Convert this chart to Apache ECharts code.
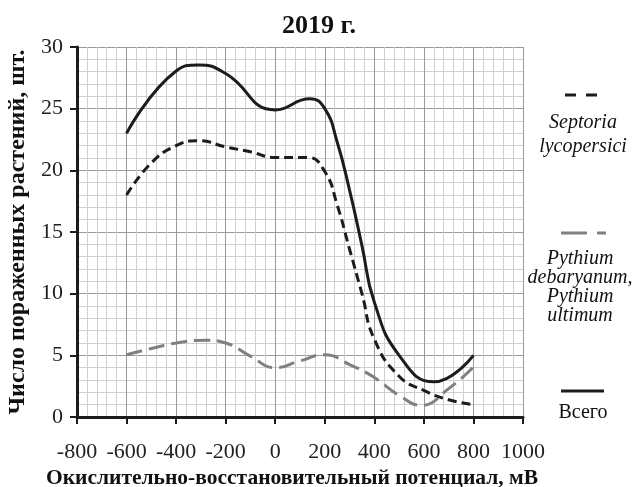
<!DOCTYPE html>
<html>
<head>
<meta charset="utf-8">
<script src="https://cdn.jsdelivr.net/npm/echarts@6/dist/echarts.min.js"></script>
<style>
    html, body { margin: 0; padding: 0; background: #fff; }
    #chart { width: 638px; height: 487px; }
</style>
</head>
<body>
<div id="chart"></div>
<script>
// значения (потенциал, мВ -> число пораженных растений, шт.)
const septoriaX = [-600, -500, -400, -310, -200, -100, 0, 130, 200, 250, 300, 350, 400, 500, 600, 700, 800]
const septoriaY = [18, 20.6, 22, 22.4, 21.9, 21.5, 21.05, 21.05, 19.9, 17.2, 13.6, 10, 6.3, 3.3, 2.15, 1.4, 1]
const pythiumX = [-600, -500, -400, -280, -200, -100, 0, 100, 200, 300, 400, 500, 590, 700, 800]
const pythiumY = [5.05, 5.55, 6, 6.22, 6, 4.93, 4, 4.55, 5.05, 4.25, 3.2, 1.75, 0.95, 2.3, 4.05]
const totalX = [-600, -400, -310, -200, 0, 140, 200, 250, 300, 350, 400, 500, 640, 800]
const totalY = [23, 28.05, 28.55, 27.85, 24.9, 25.8, 25, 22.3, 18.4, 13.9, 9.3, 5, 2.85, 5]
// подписи осей
const xTicks = [-800, -600, -400, -200, 0, 200, 400, 600, 800, 1000]
const yTicks = [0, 5, 10, 15, 20, 25, 30]

const serif = '"Liberation Serif", "Times New Roman", serif'
const black = '#1c1c1c'
const gray = '#808080'

const pairs = (xs, ys) => xs.map((x, i) => [x, ys[i]])

const chart = echarts.init(document.getElementById('chart'))

const axisCommon = {
    type: 'value',
    axisLine: { show: true, onZero: false, lineStyle: { color: black, width: 3 } },
    axisTick: { show: true, length: 7, lineStyle: { color: black, width: 2 } },
    axisLabel: { color: '#222', fontFamily: serif, fontSize: 22, formatter: v => String(v) },
    splitLine: { show: true, lineStyle: { color: '#9a9a9a', width: 1 } },
    minorTick: { show: false, splitNumber: 5 },
    minorSplitLine: { show: true, lineStyle: { color: '#cfcfcf', width: 1 } },
    nameLocation: 'middle',
    nameTextStyle: { color: '#111', fontFamily: serif, fontWeight: 'bold', fontSize: 21 }
}

const lineCommon = {
    type: 'line',
    smooth: 0.5,
    showSymbol: false
}

const option = {
    backgroundColor: '#fff',
    animation: false,
    title: {
        text: '2019 г.',
        left: 'center',
        top: 8,
        textStyle: { color: '#111', fontFamily: serif, fontWeight: 'bold', fontSize: 26 }
    },
    grid: { left: 77, right: 115, top: 47, bottom: 70, containLabel: false, outerBoundsMode: 'none' },
    xAxis: Object.assign({}, axisCommon, {
        min: xTicks[0],
        max: xTicks[xTicks.length - 1],
        interval: xTicks[1] - xTicks[0],
        name: 'Окислительно-восстановительный потенциал, мВ',
        nameGap: 47,
        nameTextStyle: Object.assign({}, axisCommon.nameTextStyle, { fontSize: 21.5, padding: [0, 16, 0, 0] }),
        axisLabel: Object.assign({}, axisCommon.axisLabel, { margin: 24 })
    }),
    yAxis: Object.assign({}, axisCommon, {
        min: yTicks[0],
        max: yTicks[yTicks.length - 1],
        interval: yTicks[1] - yTicks[0],
        name: 'Число пораженных растений, шт.',
        nameGap: 42,
        nameTextStyle: Object.assign({}, axisCommon.nameTextStyle, { fontSize: 24 }),
        axisLabel: Object.assign({}, axisCommon.axisLabel, { margin: 14 })
    }),
    series: [
        Object.assign({}, lineCommon, {
            name: 'Septoria lycopersici',
            data: pairs(septoriaX, septoriaY),
            lineStyle: { color: black, width: 3, type: [9, 5] }
        }),
        Object.assign({}, lineCommon, {
            name: 'Pythium debaryanum, Pythium ultimum',
            data: pairs(pythiumX, pythiumY),
            lineStyle: { color: gray, width: 3, type: [16, 7] }
        }),
        Object.assign({}, lineCommon, {
            name: 'Всего',
            data: pairs(totalX, totalY),
            lineStyle: { color: black, width: 3 }
        })
    ],
    // легенда справа: значок над подписью
    graphic: [
        { type: 'line', shape: { x1: 565, y1: 95, x2: 599, y2: 95 }, style: { stroke: black, lineWidth: 3, lineDash: [11, 10] } },
        {
            type: 'text', x: 583, y: 135,
            style: { text: 'Septoria\nlycopersici', font: 'italic 20px ' + serif, fill: '#111', lineHeight: 24, align: 'center', verticalAlign: 'middle', textAlign: 'center', textVerticalAlign: 'middle' }
        },
        { type: 'line', shape: { x1: 561, y1: 233, x2: 606, y2: 233 }, style: { stroke: gray, lineWidth: 3, lineDash: [26, 10] } },
        {
            type: 'text', x: 580, y: 287,
            style: { text: 'Pythium\ndebaryanum,\nPythium\nultimum', font: 'italic 20px ' + serif, fill: '#111', lineHeight: 19, align: 'center', verticalAlign: 'middle', textAlign: 'center', textVerticalAlign: 'middle' }
        },
        { type: 'line', shape: { x1: 561, y1: 391, x2: 604, y2: 391 }, style: { stroke: black, lineWidth: 3 } },
        {
            type: 'text', x: 583, y: 413,
            style: { text: 'Всего', font: '20px ' + serif, fill: '#111', align: 'center', verticalAlign: 'middle', textAlign: 'center', textVerticalAlign: 'middle' }
        }
    ]
}

chart.setOption(option)
</script>
</body>
</html>
